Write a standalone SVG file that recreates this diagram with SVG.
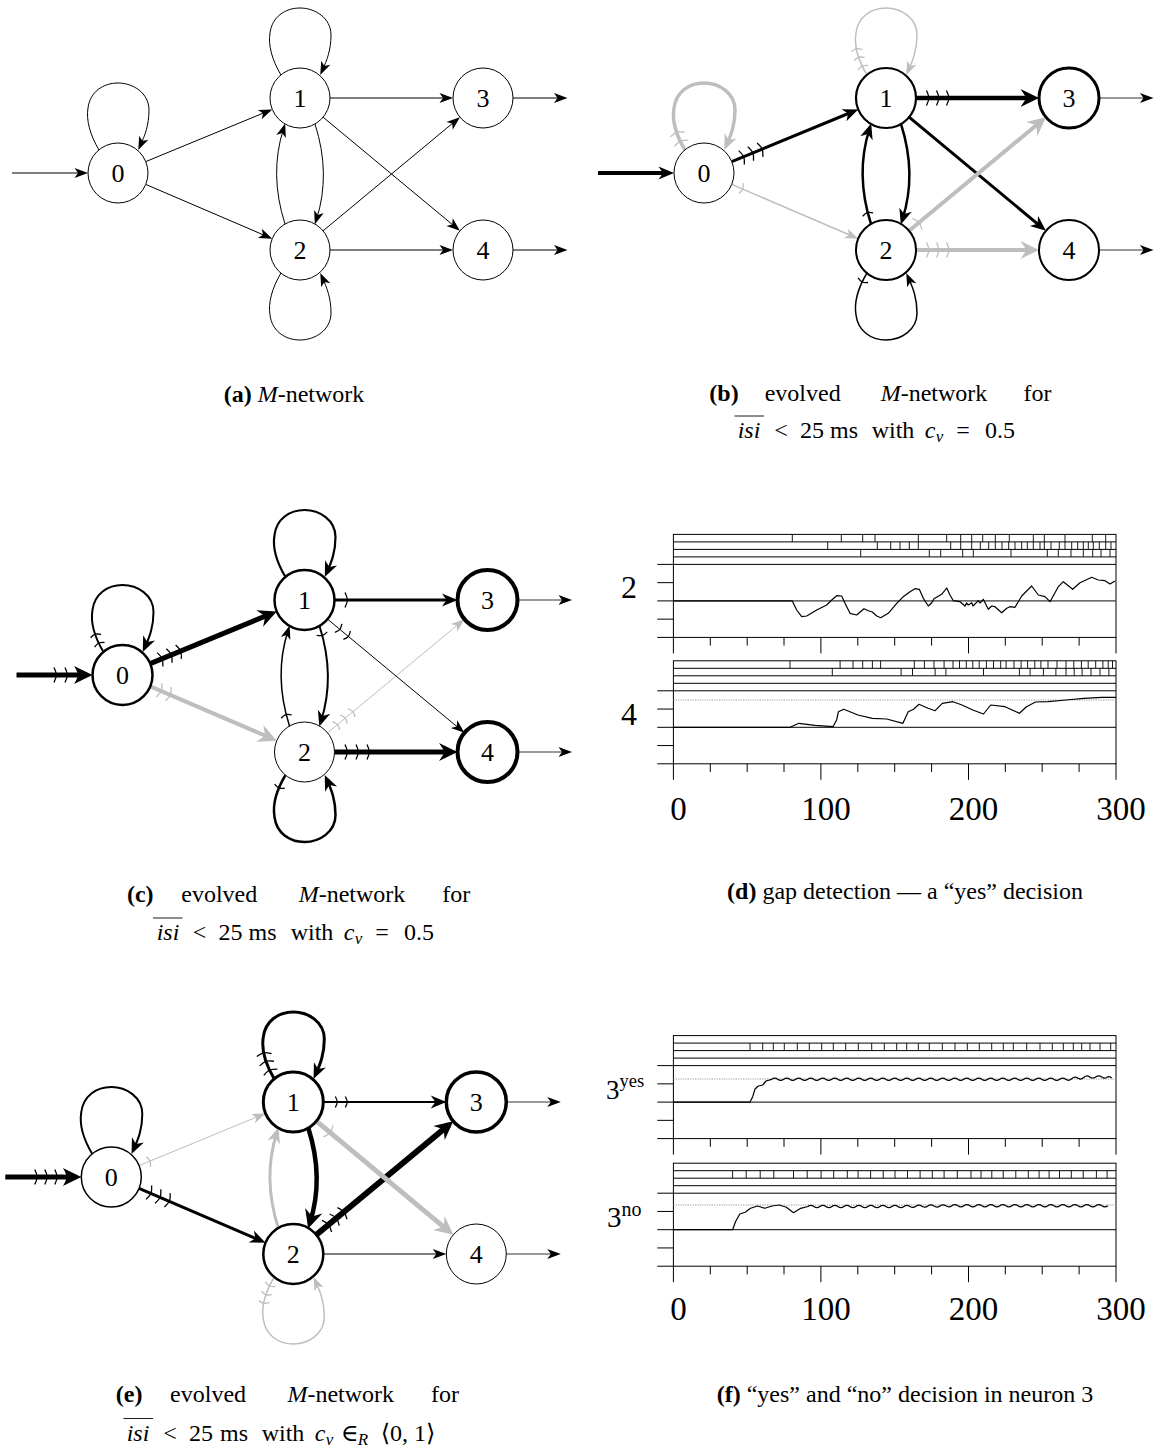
<svg xmlns="http://www.w3.org/2000/svg" width="1161" height="1449" viewBox="0 0 1161 1449">
<style>
.nd{fill:#fff;stroke:#000}
.nl{font-family:'Liberation Serif','DejaVu Serif',serif;font-size:26px;text-anchor:middle;fill:#000}
.c{fill:none}
.k{stroke:#000}
.g{stroke:#bebebe}
.o{stroke:#333;stroke-width:1}
.tk{fill:none;stroke-width:1.3}
.tkk{stroke:#000}
.tkg{stroke:#bebebe}
.cap{font-family:'Liberation Serif','DejaVu Serif',serif;font-size:24px;fill:#000}
.cs{font-family:'Liberation Serif','DejaVu Serif',serif;font-size:17px;fill:#000}
.m{text-anchor:middle}
.it{font-style:italic}
.bf{font-weight:bold}
.ax{fill:none;stroke:#000;stroke-width:1}
.sp{fill:none;stroke:#000;stroke-width:0.9}
.th{fill:none;stroke:#8a8a8a;stroke-width:0.9;stroke-dasharray:1.2 1.2}
.cv{fill:none;stroke:#000;stroke-width:1.2;stroke-linejoin:round}
.al{font-family:'Liberation Serif','DejaVu Serif',serif;font-size:33px;text-anchor:middle;fill:#000}
.pl{font-family:'Liberation Serif','DejaVu Serif',serif;font-size:32px;text-anchor:middle;fill:#000}
</style>
<defs>
<marker id="ak1" viewBox="-9 -6 15 12" markerWidth="15" markerHeight="12" refX="0" refY="0" orient="auto" markerUnits="userSpaceOnUse"><path d="M5.5,0 L-8,-5 L-4.5,0 L-8,5 Z" fill="#000"/></marker>
<marker id="ak2" viewBox="-11 -8 17 16" markerWidth="17" markerHeight="16" refX="0" refY="0" orient="auto" markerUnits="userSpaceOnUse"><path d="M5.5,0 L-10,-6.5 L-5.5,0 L-10,6.5 Z" fill="#000"/></marker>
<marker id="ak3" viewBox="-14 -10 20 20" markerWidth="20" markerHeight="20" refX="0" refY="0" orient="auto" markerUnits="userSpaceOnUse"><path d="M5.5,0 L-13,-9 L-7,0 L-13,9 Z" fill="#000"/></marker>
<marker id="ag1" viewBox="-9 -6 15 12" markerWidth="15" markerHeight="12" refX="0" refY="0" orient="auto" markerUnits="userSpaceOnUse"><path d="M5.5,0 L-8,-5 L-4.5,0 L-8,5 Z" fill="#bebebe"/></marker>
<marker id="ag2" viewBox="-11 -8 17 16" markerWidth="17" markerHeight="16" refX="0" refY="0" orient="auto" markerUnits="userSpaceOnUse"><path d="M5.5,0 L-10,-6.5 L-5.5,0 L-10,6.5 Z" fill="#bebebe"/></marker>
<marker id="ag3" viewBox="-14 -10 20 20" markerWidth="20" markerHeight="20" refX="0" refY="0" orient="auto" markerUnits="userSpaceOnUse"><path d="M5.5,0 L-13,-9 L-7,0 L-13,9 Z" fill="#bebebe"/></marker>
<path id="tkS" d="M-2,-5.5 Q-0.3,-2.5 0,0 Q-0.3,2.5 -2,5.5"/>
<path id="tkL" d="M-2.5,-7.5 Q-0.4,-3 0,0 Q-0.4,3 -2.5,7.5"/>
<g id="frame">
<rect x="0" y="0" width="442.6" height="103" fill="none" stroke="#000" stroke-width="1"/>
<path class="ax" d="M0,7.5H442.6M0,15H442.6M0,22.5H442.6M0,30H442.6M0,66.5H442.6"/>
<path class="ax" d="M-16.1,30H0M-16.1,48.25H0M-16.1,66.5H0M-16.1,84.75H0M-16.1,103H0"/>
<path class="ax" d="M0,103V119M36.9,103V111.2M73.8,103V111.2M110.6,103V111.2M147.5,103V119M184.4,103V111.2M221.3,103V111.2M258.2,103V111.2M295.1,103V119M331.9,103V111.2M368.8,103V111.2M405.7,103V111.2M442.6,103V119"/>
</g>
</defs>
<rect x="0" y="0" width="1161" height="1449" fill="#fff"/>

<!-- Panel (a) -->
<g id="panel-a">
<g id="a-connectors" class="c k" stroke-width="1">
<path d="M12,173 H82.5" marker-end="url(#ak1)"/>
<path transform="translate(118,173)" d="M-19,-23 C-28,-38 -32,-53 -30,-65 C-28,-81 -15,-90 0,-90 C15,-90 31,-80 31,-63 C31,-48 27,-38 22.5,-28" marker-end="url(#ak1)"/>
<path d="M145.75,161.6 L267.2,111.5" marker-end="url(#ak1)"/>
<path d="M145.75,184.4 L267.2,236.5" marker-end="url(#ak1)"/>
<path transform="translate(300,98)" d="M-19,-23 C-28,-38 -32,-53 -30,-65 C-28,-81 -15,-90 0,-90 C15,-90 31,-80 31,-63 C31,-48 27,-38 22.5,-28" marker-end="url(#ak1)"/>
<path transform="translate(300,250)" d="M-19,23 C-28,38 -32,53 -30,65 C-28,81 -15,90 0,90 C15,90 31,80 31,63 C31,48 27,38 22.5,28" marker-end="url(#ak1)"/>
<path d="M315,124 Q331,174 316.5,219.2" marker-end="url(#ak1)"/>
<path d="M285,224 Q269,174 283.5,128.8" marker-end="url(#ak1)"/>
<path d="M330,98 H447.5" marker-end="url(#ak1)"/>
<path d="M330,250 H447.5" marker-end="url(#ak1)"/>
<path d="M323.1,117.2 L455.7,227.3" marker-end="url(#ak1)"/>
<path d="M323.1,230.8 L455.7,120.7" marker-end="url(#ak1)"/>
<path d="M513,98 H562" marker-end="url(#ak1)"/>
<path d="M513,250 H562" marker-end="url(#ak1)"/>
</g>
<g id="a-n0"><circle class="nd" cx="118" cy="173" r="30" stroke-width="1"/><text class="nl" x="118" y="182">0</text></g>
<g id="a-n1"><circle class="nd" cx="300" cy="98" r="30" stroke-width="1"/><text class="nl" x="300" y="107">1</text></g>
<g id="a-n2"><circle class="nd" cx="300" cy="250" r="30" stroke-width="1"/><text class="nl" x="300" y="259">2</text></g>
<g id="a-n3"><circle class="nd" cx="483" cy="98" r="30" stroke-width="1"/><text class="nl" x="483" y="107">3</text></g>
<g id="a-n4"><circle class="nd" cx="483" cy="250" r="30" stroke-width="1"/><text class="nl" x="483" y="259">4</text></g>
</g>
<text class="cap m" x="294" y="401.5"><tspan class="bf">(a)</tspan> <tspan class="it">M</tspan>-network</text>

<!-- Panel (b) -->
<g id="panel-b" transform="translate(586,0)">
<g id="b-connectors" class="c">
<path class="k" stroke-width="4" d="M12,173 H82.5" marker-end="url(#ak2)"/>
<path class="g" stroke-width="3.5" transform="translate(118,173)" d="M-19,-23 C-28,-38 -32,-53 -30,-65 C-28,-81 -15,-90 0,-90 C15,-90 31,-80 31,-63 C31,-48 27,-38 22.5,-28" marker-end="url(#ag2)"/>
<use href="#tkL" class="tk tkg" transform="translate(94.2,141) rotate(-115)"/>
<use href="#tkL" class="tk tkg" transform="translate(90.7,132.2) rotate(-108)"/>
<path class="k" stroke-width="3" d="M145.75,161.6 L267.2,111.5" marker-end="url(#ak2)"/>
<use href="#tkL" class="tk tkk" transform="translate(157.8,156.6) rotate(-22.4)"/>
<use href="#tkL" class="tk tkk" transform="translate(167,152.8) rotate(-22.4)"/>
<use href="#tkL" class="tk tkk" transform="translate(176.3,149) rotate(-22.4)"/>
<path class="g" stroke-width="1.5" d="M145.75,184.4 L267.2,236.5" marker-end="url(#ag1)"/>
<use href="#tkS" class="tk tkg" transform="translate(156.85,189) rotate(22.4)"/>
<path class="g" stroke-width="1.5" transform="translate(300,98)" d="M-19,-23 C-28,-38 -32,-53 -30,-65 C-28,-81 -15,-90 0,-90 C15,-90 31,-80 31,-63 C31,-48 27,-38 22.5,-28" marker-end="url(#ag1)"/>
<use href="#tkS" class="tk tkg" transform="translate(276.2,66) rotate(-115)"/>
<use href="#tkS" class="tk tkg" transform="translate(272.7,57.2) rotate(-108)"/>
<use href="#tkS" class="tk tkg" transform="translate(270.4,48.6) rotate(-101)"/>
<path class="k" stroke-width="4.5" d="M330,98 H447.5" marker-end="url(#ak3)"/>
<use href="#tkL" class="tk tkk" transform="translate(343,98)"/>
<use href="#tkL" class="tk tkk" transform="translate(353,98)"/>
<use href="#tkL" class="tk tkk" transform="translate(363,98)"/>
<path class="k" stroke-width="3" d="M323.1,117.2 L455.7,227.3" marker-end="url(#ak2)"/>
<path class="k" stroke-width="2.5" d="M315,124 Q331,174 316.5,219.2" marker-end="url(#ak2)"/>
<path class="k" stroke-width="2.5" d="M285,224 Q269,174 283.5,128.8" marker-end="url(#ak2)"/>
<use href="#tkS" class="tk tkk" transform="translate(281.3,212.6) rotate(-107.8)"/>
<path class="g" stroke-width="4" d="M323.1,230.8 L455.7,120.7" marker-end="url(#ag3)"/>
<use href="#tkL" class="tk tkg" transform="translate(333.1,222.5) rotate(-39.7)"/>
<path class="g" stroke-width="4" d="M330,250 H447.5" marker-end="url(#ag3)"/>
<use href="#tkL" class="tk tkg" transform="translate(343,250)"/>
<use href="#tkL" class="tk tkg" transform="translate(353,250)"/>
<use href="#tkL" class="tk tkg" transform="translate(363,250)"/>
<path class="k" stroke-width="1.5" transform="translate(300,250)" d="M-19,23 C-28,38 -32,53 -30,65 C-28,81 -15,90 0,90 C15,90 31,80 31,63 C31,48 27,38 22.5,28" marker-end="url(#ak1)"/>
<use href="#tkS" class="tk tkk" transform="translate(276.2,282) rotate(115)"/>
<path class="o" d="M513,98 H562" marker-end="url(#ak1)"/>
<path class="o" d="M513,250 H562" marker-end="url(#ak1)"/>
</g>
<g id="b-n0"><circle class="nd" cx="118" cy="173" r="30" stroke-width="1"/><text class="nl" x="118" y="182">0</text></g>
<g id="b-n1"><circle class="nd" cx="300" cy="98" r="30" stroke-width="2.2"/><text class="nl" x="300" y="107">1</text></g>
<g id="b-n2"><circle class="nd" cx="300" cy="250" r="30" stroke-width="2"/><text class="nl" x="300" y="259">2</text></g>
<g id="b-n3"><circle class="nd" cx="483" cy="98" r="30" stroke-width="3"/><text class="nl" x="483" y="107">3</text></g>
<g id="b-n4"><circle class="nd" cx="483" cy="250" r="30" stroke-width="2"/><text class="nl" x="483" y="259">4</text></g>
</g>
<g id="caption-b">
<text class="cap bf m" x="724" y="401">(b)</text>
<text class="cap m" x="802.7" y="401">evolved</text>
<text class="cap m" x="934" y="401"><tspan class="it">M</tspan>-network</text>
<text class="cap m" x="1037.5" y="401">for</text>
<text class="cap it m" x="749" y="438">isi</text>
<line x1="734.5" y1="416" x2="764" y2="416" stroke="#000" stroke-width="0.9"/>
<text class="cap m" x="781" y="438">&lt;</text>
<text class="cap m" x="812" y="438">25</text>
<text class="cap m" x="844" y="438">ms</text>
<text class="cap m" x="893" y="438">with</text>
<text class="cap it m" x="930" y="438">c</text>
<text class="cs it m" x="939.5" y="442">v</text>
<text class="cap m" x="963" y="438">=</text>
<text class="cap m" x="1000" y="438">0.5</text>
</g>

<!-- Panel (c) -->
<g id="panel-c" transform="translate(4.5,502)">
<g id="c-connectors" class="c">
<path class="k" stroke-width="5" d="M12,173 H82.5" marker-end="url(#ak3)"/>
<use href="#tkL" class="tk tkk" transform="translate(52,173)"/>
<use href="#tkL" class="tk tkk" transform="translate(63,173)"/>
<use href="#tkL" class="tk tkk" transform="translate(74,173)"/>
<path class="k" stroke-width="2" transform="translate(118,173)" d="M-19,-23 C-28,-38 -32,-53 -30,-65 C-28,-81 -15,-90 0,-90 C15,-90 31,-80 31,-63 C31,-48 27,-38 22.5,-28" marker-end="url(#ak2)"/>
<use href="#tkS" class="tk tkk" transform="translate(94.2,141) rotate(-115)"/>
<use href="#tkS" class="tk tkk" transform="translate(90.7,132.2) rotate(-108)"/>
<path class="g" stroke-width="4" d="M145.75,184.4 L267.2,236.5" marker-end="url(#ag3)"/>
<use href="#tkL" class="tk tkg" transform="translate(156.85,189) rotate(22.4)"/>
<use href="#tkL" class="tk tkg" transform="translate(166.1,192.8) rotate(22.4)"/>
<path class="k" stroke-width="5" d="M145.75,161.6 L267.2,111.5" marker-end="url(#ak3)"/>
<use href="#tkL" class="tk tkk" transform="translate(157.8,156.6) rotate(-22.4)"/>
<use href="#tkL" class="tk tkk" transform="translate(167,152.8) rotate(-22.4)"/>
<use href="#tkL" class="tk tkk" transform="translate(176.3,149) rotate(-22.4)"/>
<path class="k" stroke-width="2.2" transform="translate(300,98)" d="M-19,-23 C-28,-38 -32,-53 -30,-65 C-28,-81 -15,-90 0,-90 C15,-90 31,-80 31,-63 C31,-48 27,-38 22.5,-28" marker-end="url(#ak2)"/>
<path class="k" stroke-width="3" d="M330,98 H447.5" marker-end="url(#ak2)"/>
<use href="#tkL" class="tk tkk" transform="translate(343,98)"/>
<path class="g" stroke-width="1" d="M323.1,230.8 L455.7,120.7" marker-end="url(#ag1)"/>
<use href="#tkS" class="tk tkg" transform="translate(333.1,222.5) rotate(-39.7)"/>
<use href="#tkS" class="tk tkg" transform="translate(340.8,216.1) rotate(-39.7)"/>
<use href="#tkS" class="tk tkg" transform="translate(348.5,209.7) rotate(-39.7)"/>
<path class="k" stroke-width="1" d="M323.1,117.2 L455.7,227.3" marker-end="url(#ak1)"/>
<use href="#tkS" class="tk tkk" transform="translate(335.4,127.4) rotate(39.7)"/>
<use href="#tkS" class="tk tkk" transform="translate(343.9,134.5) rotate(39.7)"/>
<path class="k" stroke-width="2" d="M315,124 Q331,174 316.5,219.2" marker-end="url(#ak2)"/>
<use href="#tkS" class="tk tkk" transform="translate(318.1,133.5) rotate(72.2)"/>
<path class="k" stroke-width="1.5" d="M285,224 Q269,174 283.5,128.8" marker-end="url(#ak1)"/>
<use href="#tkS" class="tk tkk" transform="translate(281.3,212.6) rotate(-107.8)"/>
<path class="k" stroke-width="5" d="M330,250 H447.5" marker-end="url(#ak3)"/>
<use href="#tkL" class="tk tkk" transform="translate(343,250)"/>
<use href="#tkL" class="tk tkk" transform="translate(354,250)"/>
<use href="#tkL" class="tk tkk" transform="translate(365,250)"/>
<path class="k" stroke-width="2.5" transform="translate(300,250)" d="M-19,23 C-28,38 -32,53 -30,65 C-28,81 -15,90 0,90 C15,90 31,80 31,63 C31,48 27,38 22.5,28" marker-end="url(#ak2)"/>
<use href="#tkS" class="tk tkk" transform="translate(274.5,286) rotate(111)"/>
<path class="o" d="M513,98 H562" marker-end="url(#ak1)"/>
<path class="o" d="M513,250 H562" marker-end="url(#ak1)"/>
</g>
<g id="c-n0"><circle class="nd" cx="118" cy="173" r="30" stroke-width="2.5"/><text class="nl" x="118" y="182">0</text></g>
<g id="c-n1"><circle class="nd" cx="300" cy="98" r="30" stroke-width="2.5"/><text class="nl" x="300" y="107">1</text></g>
<g id="c-n2"><circle class="nd" cx="300" cy="250" r="30" stroke-width="1"/><text class="nl" x="300" y="259">2</text></g>
<g id="c-n3"><circle class="nd" cx="483" cy="98" r="30" stroke-width="4"/><text class="nl" x="483" y="107">3</text></g>
<g id="c-n4"><circle class="nd" cx="483" cy="250" r="30" stroke-width="4"/><text class="nl" x="483" y="259">4</text></g>
</g>
<g id="caption-c">
<text class="cap bf m" x="140.3" y="901.5">(c)</text>
<text class="cap m" x="219.3" y="901.5">evolved</text>
<text class="cap m" x="352" y="901.5"><tspan class="it">M</tspan>-network</text>
<text class="cap m" x="456.3" y="901.5">for</text>
<text class="cap it m" x="168" y="940">isi</text>
<line x1="153" y1="918" x2="182.5" y2="918" stroke="#000" stroke-width="0.9"/>
<text class="cap m" x="199.5" y="940">&lt;</text>
<text class="cap m" x="230.5" y="940">25</text>
<text class="cap m" x="262.5" y="940">ms</text>
<text class="cap m" x="312" y="940">with</text>
<text class="cap it m" x="349" y="940">c</text>
<text class="cs it m" x="358.5" y="944">v</text>
<text class="cap m" x="382" y="940">=</text>
<text class="cap m" x="419" y="940">0.5</text>
</g>

<!-- Panel (e) -->
<g id="panel-e" transform="translate(-6.7,1004)">
<g id="e-connectors" class="c">
<path class="k" stroke-width="5" d="M12,173 H82.5" marker-end="url(#ak3)"/>
<use href="#tkL" class="tk tkk" transform="translate(44,173)"/>
<use href="#tkL" class="tk tkk" transform="translate(54,173)"/>
<use href="#tkL" class="tk tkk" transform="translate(64,173)"/>
<use href="#tkL" class="tk tkk" transform="translate(74,173)"/>
<path class="k" stroke-width="2" transform="translate(118,173)" d="M-19,-23 C-28,-38 -32,-53 -30,-65 C-28,-81 -15,-90 0,-90 C15,-90 31,-80 31,-63 C31,-48 27,-38 22.5,-28" marker-end="url(#ak2)"/>
<path class="g" stroke-width="1" d="M145.75,161.6 L267.2,111.5" marker-end="url(#ag1)"/>
<use href="#tkS" class="tk tkg" transform="translate(156.85,157) rotate(-22.4)"/>
<path class="k" stroke-width="3" d="M145.75,184.4 L267.2,236.5" marker-end="url(#ak2)"/>
<use href="#tkL" class="tk tkk" transform="translate(157.8,189.4) rotate(22.4)"/>
<use href="#tkL" class="tk tkk" transform="translate(167,193.2) rotate(22.4)"/>
<use href="#tkL" class="tk tkk" transform="translate(176.3,197) rotate(22.4)"/>
<path class="k" stroke-width="3" transform="translate(300,98)" d="M-19,-23 C-28,-38 -32,-53 -30,-65 C-28,-81 -15,-90 0,-90 C15,-90 31,-80 31,-63 C31,-48 27,-38 22.5,-28" marker-end="url(#ak2)"/>
<use href="#tkL" class="tk tkk" transform="translate(276.2,66) rotate(-115)"/>
<use href="#tkL" class="tk tkk" transform="translate(272.7,57.2) rotate(-108)"/>
<use href="#tkL" class="tk tkk" transform="translate(270.4,48.6) rotate(-101)"/>
<path class="k" stroke-width="2" d="M330,98 H447.5" marker-end="url(#ak2)"/>
<use href="#tkS" class="tk tkk" transform="translate(344,98)"/>
<use href="#tkS" class="tk tkk" transform="translate(354,98)"/>
<path class="g" stroke-width="3" d="M285,224 Q269,174 283.5,128.8" marker-end="url(#ag2)"/>
<path class="k" stroke-width="4.5" d="M315,124 Q331,174 316.5,219.2" marker-end="url(#ak3)"/>
<path class="k" stroke-width="6" d="M323.1,230.8 L455.7,120.7" marker-end="url(#ak3)"/>
<use href="#tkL" class="tk tkk" transform="translate(335.4,220.6) rotate(-39.7)"/>
<use href="#tkL" class="tk tkk" transform="translate(343.1,214.2) rotate(-39.7)"/>
<use href="#tkL" class="tk tkk" transform="translate(350.8,207.8) rotate(-39.7)"/>
<path class="g" stroke-width="5" d="M323.1,117.2 L455.7,227.3" marker-end="url(#ag3)"/>
<use href="#tkL" class="tk tkg" transform="translate(336.9,128.7) rotate(39.7)"/>
<path class="k" stroke-width="1" d="M330,250 H447.5" marker-end="url(#ak1)"/>
<path class="g" stroke-width="1.5" transform="translate(300,250)" d="M-19,23 C-28,38 -32,53 -30,65 C-28,81 -15,90 0,90 C15,90 31,80 31,63 C31,48 27,38 22.5,28" marker-end="url(#ag1)"/>
<use href="#tkS" class="tk tkg" transform="translate(276.2,282) rotate(115)"/>
<use href="#tkS" class="tk tkg" transform="translate(272.7,290.8) rotate(108)"/>
<use href="#tkS" class="tk tkg" transform="translate(270.4,299.4) rotate(101)"/>
<path class="o" d="M513,98 H562" marker-end="url(#ak1)"/>
<path class="o" d="M513,250 H562" marker-end="url(#ak1)"/>
</g>
<g id="e-n0"><circle class="nd" cx="118" cy="173" r="30" stroke-width="1.5"/><text class="nl" x="118" y="182">0</text></g>
<g id="e-n1"><circle class="nd" cx="300" cy="98" r="30" stroke-width="3"/><text class="nl" x="300" y="107">1</text></g>
<g id="e-n2"><circle class="nd" cx="300" cy="250" r="30" stroke-width="2.5"/><text class="nl" x="300" y="259">2</text></g>
<g id="e-n3"><circle class="nd" cx="483" cy="98" r="30" stroke-width="3.5"/><text class="nl" x="483" y="107">3</text></g>
<g id="e-n4"><circle class="nd" cx="483" cy="250" r="30" stroke-width="1"/><text class="nl" x="483" y="259">4</text></g>
</g>
<g id="caption-e">
<text class="cap bf m" x="129.1" y="1402">(e)</text>
<text class="cap m" x="208.1" y="1402">evolved</text>
<text class="cap m" x="340.8" y="1402"><tspan class="it">M</tspan>-network</text>
<text class="cap m" x="445.1" y="1402">for</text>
<text class="cap it m" x="138" y="1440.5">isi</text>
<line x1="123.5" y1="1418.5" x2="153" y2="1418.5" stroke="#000" stroke-width="0.9"/>
<text class="cap m" x="170" y="1440.5">&lt;</text>
<text class="cap m" x="201" y="1440.5">25</text>
<text class="cap m" x="234" y="1440.5">ms</text>
<text class="cap m" x="283" y="1440.5">with</text>
<text class="cap it m" x="320" y="1440.5">c</text>
<text class="cs it m" x="329.5" y="1444.5">v</text>
<text class="cap m" x="350" y="1440.5">∈</text>
<text class="cs it m" x="363" y="1444.5">R</text>
<text class="cap m" x="408" y="1440.5">⟨0, 1⟩</text>
</g>

<!-- Panel (d) plots -->
<g id="plot-d-neuron2">
<use href="#frame" transform="translate(673.4,534.4)"/>
<path class="sp" transform="translate(0,534.4)" d="M792.3,0v7.5M841.3,0v7.5M862.7,0v7.5M875,0v7.5M918.3,0v7.5M946.7,0v7.5M960.7,0v7.5M971.7,0v7.5M982.7,0v7.5M995.3,0v7.5M1009.3,0v7.5M1033.3,0v7.5M1044.3,0v7.5M1065,0v7.5M1092.3,0v7.5M1105.7,0v7.5"/>
<path class="sp" transform="translate(0,541.9)" d="M827.7,0v7.5M877.3,0v7.5M890.7,0v7.5M900,0v7.5M909.3,0v7.5M918.3,0v7.5M950.7,0v7.5M960.7,0v7.5M971.7,0v7.5M980.3,0v7.5M988.7,0v7.5M995.3,0v7.5M1002,0v7.5M1008.7,0v7.5M1015,0v7.5M1021.7,0v7.5M1027.3,0v7.5M1033.3,0v7.5M1040,0v7.5M1044.3,0v7.5M1051,0v7.5M1059.3,0v7.5M1065,0v7.5M1071.7,0v7.5M1077.7,0v7.5M1083.3,0v7.5M1088.3,0v7.5M1093.3,0v7.5M1099.3,0v7.5M1105.7,0v7.5M1111,0v7.5"/>
<path class="sp" transform="translate(0,549.4)" d="M860.7,0v7.5M929.3,0v7.5M940.7,0v7.5M962.7,0v7.5M973.3,0v7.5M1011,0v7.5M1047.3,0v7.5M1058.3,0v7.5M1071,0v7.5M1083.3,0v7.5M1092.7,0v7.5M1101,0v7.5M1110,0v7.5"/>
<line class="th" x1="673.4" y1="600.9" x2="1116" y2="600.9"/>
<polyline class="cv" points="673.4,600.9 792.3,600.9 796.7,610 801.7,616.7 806.7,616 816.7,610 826.7,605 831.7,600 836.7,595.7 841.7,596 845,603.3 850,613.3 856.7,615 864,608.7 868.3,610.7 872.3,612 876.7,616 880.7,617.7 888.3,613.3 896.7,603.3 903.3,596.7 910,591.7 915,588.7 919.3,589.3 923.3,598.3 928.3,606 931.7,602.7 934,598.7 941.7,594.3 946.7,588 950,595 953.3,600.7 960,601.7 965,606 966.5,603 968.3,605 971.7,602.7 973,606 975,604 978.3,600.7 980,603 983.3,599.3 988.3,609.3 991.7,606 995,606.7 1001.7,612.7 1006.7,608.3 1010,606.7 1015,607.3 1021.7,596 1031.7,586 1038.3,595 1045,596.7 1050,601.7 1058.3,586.7 1063.3,581.7 1072.7,589.3 1080,582.7 1091.7,577.3 1098.3,580 1105,580.7 1110,584 1115,581"/>
<text class="pl" x="629" y="598">2</text>
</g>
<g id="plot-d-neuron4">
<use href="#frame" transform="translate(673.4,660.8)"/>
<path class="sp" transform="translate(0,660.8)" d="M790,0v7.5M840.1,0v7.5M853,0v7.5M862.7,0v7.5M872.4,0v7.5M880.6,0v7.5M914.3,0v7.5M924.4,0v7.5M934,0v7.5M944.1,0v7.5M953,0v7.5M959.5,0v7.5M966.3,0v7.5M972.8,0v7.5M979.2,0v7.5M986.4,0v7.5M993.5,0v7.5M1000.7,0v7.5M1006.1,0v7.5M1014,0v7.5M1021.1,0v7.5M1027.6,0v7.5M1034.8,0v7.5M1040.9,0v7.5M1048,0v7.5M1057,0v7.5M1066,0v7.5M1073.8,0v7.5M1081.4,0v7.5M1088.2,0v7.5M1095.7,0v7.5M1102.9,0v7.5M1108.2,0v7.5M1112.5,0v7.5"/>
<path class="sp" transform="translate(0,668.3)" d="M832.3,0v7.5M901.1,0v7.5M912.5,0v7.5M935.1,0v7.5M945.9,0v7.5M983.5,0v7.5M1019.4,0v7.5M1030.1,0v7.5M1043.4,0v7.5M1055.9,0v7.5M1066,0v7.5M1074.2,0v7.5M1082.1,0v7.5M1091,0v7.5M1100,0v7.5M1108.9,0v7.5"/>
<line class="th" x1="673.4" y1="700" x2="1116" y2="700"/>
<polyline class="cv" points="673.4,727.3 790,727.3 798.9,723.3 815,725.3 833,726.7 836.6,720 838.4,711.7 843.7,709.3 858,715 872.4,718.3 886.7,719 902.9,723.3 908.2,711.7 913.6,709.3 919,704.3 928,708.3 935.1,710.7 942.3,703.3 953,701.7 962,705 972.8,710 983.5,714 990.7,705 1005,706.7 1019.4,713.3 1026.5,706.7 1035.5,702 1048,701.7 1066,700 1083.9,698.3 1101.8,697.3 1116,697.3"/>
<text class="pl" x="629" y="725">4</text>
</g>
<g id="axis-d">
<text class="al" x="678.4" y="820">0</text>
<text class="al" x="825.9" y="820">100</text>
<text class="al" x="973.5" y="820">200</text>
<text class="al" x="1121" y="820">300</text>
</g>
<text class="cap m" x="905" y="899"><tspan class="bf">(d)</tspan> gap detection — a “yes” decision</text>

<!-- Panel (f) plots -->
<g id="plot-f-yes">
<use href="#frame" transform="translate(673.4,1035.6)"/>
<path class="sp" transform="translate(0,1043.1)" d="M750,0v7.5M762.7,0v7.5M773.3,0v7.5M784.3,0v7.5M797.3,0v7.5M809.3,0v7.5M821.7,0v7.5M833.3,0v7.5M845.7,0v7.5M858.3,0v7.5M871.7,0v7.5M884.3,0v7.5M896.7,0v7.5M906.7,0v7.5M918.3,0v7.5M929.3,0v7.5M942.3,0v7.5M955,0v7.5M967.3,0v7.5M979.3,0v7.5M991.7,0v7.5M1003.3,0v7.5M1013.3,0v7.5M1026.7,0v7.5M1040,0v7.5M1052.3,0v7.5M1063.3,0v7.5M1073.3,0v7.5M1081.7,0v7.5M1090,0v7.5M1100,0v7.5M1110.7,0v7.5"/>
<line class="th" x1="673.4" y1="1079" x2="1116" y2="1079"/>
<path class="cv" d="M673.4,1102.1 H750 L752.7,1096.7 L755,1089 L758.3,1086 L762.7,1085 L766,1081 L771.7,1079.3 q3,-2.2 6,0 t6,0 t6,0 t6,0 t6,0 t6,0 t6,0 t6,0 t6,0 t6,0 t6,0 t6,0 t6,0 t6,0 t6,0 t6,0 t6,0 t6,0 t6,0 t6,0 t6,0 t6,0 t6,0 t6,0 t6,0 t6,0 t6,0 t6,0 t6,0 t6,0 t6,0 t6,0 t6,0 t6,0 t6,0 t6,0 t6,0 t6,0 t6,0 t6,0 t6,0 t6,0 t6,0 t6,0 t6,0 t6,0 t6,0 t6,0 t6,0 t6,-0.6 t6,-0.6 t6,-0.6 t6,-0.6 t6,0 t6,0 t5,0.5 t5,0.5"/>
<text font-family="'Liberation Serif','DejaVu Serif',serif" font-size="27" x="606" y="1099">3<tspan font-size="18.5" dy="-12">yes</tspan></text>
</g>
<g id="plot-f-no">
<use href="#frame" transform="translate(673.4,1163.2)"/>
<path class="sp" transform="translate(0,1170.7)" d="M732.6,0v7.5M746.2,0v7.5M760.2,0v7.5M773.8,0v7.5M793.5,0v7.5M807.2,0v7.5M821.1,0v7.5M833.7,0v7.5M847.3,0v7.5M858.1,0v7.5M870.6,0v7.5M883.2,0v7.5M895,0v7.5M907.5,0v7.5M920.1,0v7.5M932.3,0v7.5M944.1,0v7.5M957.3,0v7.5M971,0v7.5M981,0v7.5M991.8,0v7.5M1003.2,0v7.5M1015.8,0v7.5M1028.3,0v7.5M1039.1,0v7.5M1049.1,0v7.5M1059.5,0v7.5M1071.3,0v7.5M1083.2,0v7.5M1096.4,0v7.5M1107.1,0v7.5"/>
<line class="th" x1="673.4" y1="1205" x2="1116" y2="1205"/>
<path class="cv" d="M673.4,1229.7 H732.6 L735.5,1221.7 L739.8,1214 L745.2,1212.3 L750.5,1208.3 L757.7,1206 L764.9,1208.3 L772,1206 L779.2,1205 L786.4,1207.3 L793.5,1212.7 L800.7,1208.3 L807.9,1206.5 q3,-2.2 6,0 t6,0 t6,0 t6,0 t6,0 t6,0 t6,0 t6,0 t6,0 t6,0 t6,0 t6,0 t6,0 t6,0 t6,0 t6,0 t6,-0.1 t6,-0.1 t6,-0.1 t6,-0.1 t6,-0.1 t6,-0.1 t6,-0.1 t6,-0.1 t6,0 t6,0 t6,0 t6,0 t6,0 t6,0 t6,0 t6,0 t6,0 t6,0 t6,0 t6,0 t6,0 t6,0 t6,0 t6,0 t6,0 t6,0 t6,0 t6,0 t6,0 t6,0 t6,0 t6,0 t6,0 t6,0"/>
<text font-family="'Liberation Serif','DejaVu Serif',serif" font-size="29" x="607" y="1227">3<tspan font-size="20" dy="-11">no</tspan></text>
</g>
<g id="axis-f">
<text class="al" x="678.4" y="1320">0</text>
<text class="al" x="825.9" y="1320">100</text>
<text class="al" x="973.5" y="1320">200</text>
<text class="al" x="1121" y="1320">300</text>
</g>
<text class="cap m" x="905" y="1402"><tspan class="bf">(f)</tspan> “yes” and “no” decision in neuron 3</text>
</svg>
